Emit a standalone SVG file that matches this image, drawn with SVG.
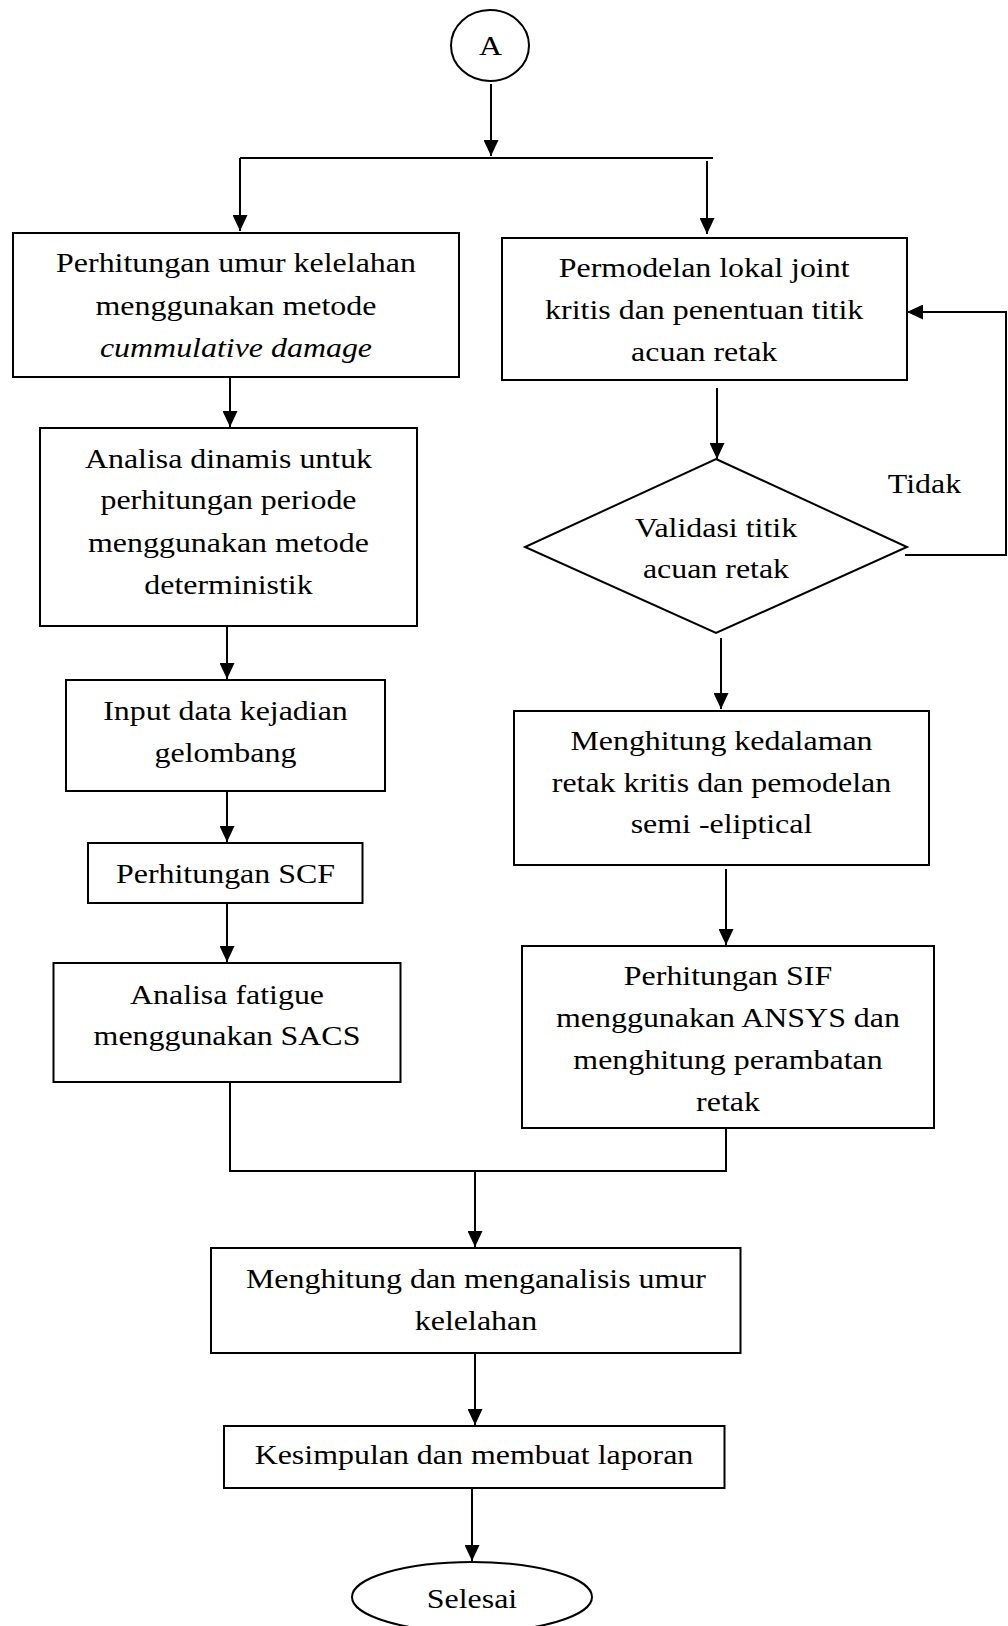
<svg xmlns="http://www.w3.org/2000/svg" width="1008" height="1626" viewBox="0 0 1008 1626">
<style>
.box{fill:#fff;stroke:#000;stroke-width:2}
.ln{fill:none;stroke:#000;stroke-width:2}
.t{font-family:"Liberation Serif","Times New Roman",serif;font-size:28px;fill:#000;text-anchor:middle}
.i{font-style:italic}
</style>
<defs>
<marker id="ah" markerUnits="userSpaceOnUse" markerWidth="17" markerHeight="15" refX="16" refY="7.5" orient="auto">
<path d="M0,0 L16,7.5 L0,15 z" fill="#000"/>
</marker>
</defs>
<rect width="1008" height="1626" fill="#fff"/>
<g id="connectors">
<path class="ln" d="M491,84 V156" marker-end="url(#ah)"/>
<path class="ln" d="M240,158 H713"/>
<path class="ln" d="M240,158 V231" marker-end="url(#ah)"/>
<path class="ln" d="M707,161 V234" marker-end="url(#ah)"/>
<path class="ln" d="M230,377 V427" marker-end="url(#ah)"/>
<path class="ln" d="M227,626 V679" marker-end="url(#ah)"/>
<path class="ln" d="M227,791 V842" marker-end="url(#ah)"/>
<path class="ln" d="M227,903 V962" marker-end="url(#ah)"/>
<path class="ln" d="M717,388 V459" marker-end="url(#ah)"/>
<path class="ln" d="M721,638 V709" marker-end="url(#ah)"/>
<path class="ln" d="M726,869 V945" marker-end="url(#ah)"/>
<path class="ln" d="M905,555 H1006 V312 H907" marker-end="url(#ah)"/>
<path class="ln" d="M230,1082 V1171 H726 V1128"/>
<path class="ln" d="M475,1171 V1247" marker-end="url(#ah)"/>
<path class="ln" d="M475,1353 V1425" marker-end="url(#ah)"/>
<path class="ln" d="M472,1488 V1561" marker-end="url(#ah)"/>
<text class="t" x="924.5" y="493" transform="matrix(1.14 0 0 1 -129.43 0)">Tidak</text>
</g>
<g id="start">
<ellipse class="box" cx="490" cy="45.5" rx="39" ry="35.5"/>
<text class="t" x="490.5" y="55" transform="matrix(1.14 0 0 1 -68.67 0)">A</text>
</g>
<g id="n1">
<rect class="box" x="13" y="233" width="446" height="144"/>
<g transform="matrix(1.14 0 0 1 -33.04 0)">
<text class="t" x="236" y="272.5">Perhitungan umur kelelahan</text>
<text class="t" x="236" y="315">menggunakan metode</text>
<text class="t i" x="236" y="357">cummulative damage</text>
</g>
</g>
<g id="n2">
<rect class="box" x="40" y="428" width="377" height="198"/>
<g transform="matrix(1.14 0 0 1 -31.99 0)">
<text class="t" x="228.5" y="468">Analisa dinamis untuk</text>
<text class="t" x="228.5" y="509.5">perhitungan periode</text>
<text class="t" x="228.5" y="552">menggunakan metode</text>
<text class="t" x="228.5" y="594">deterministik</text>
</g>
</g>
<g id="n3">
<rect class="box" x="66" y="680" width="319" height="111"/>
<g transform="matrix(1.14 0 0 1 -31.57 0)">
<text class="t" x="225.5" y="720">Input data kejadian</text>
<text class="t" x="225.5" y="762">gelombang</text>
</g>
</g>
<g id="n4">
<rect class="box" x="88" y="843" width="274.5" height="60"/>
<g transform="matrix(1.14 0 0 1 -31.57 0)">
<text class="t" x="225.5" y="883">Perhitungan SCF</text>
</g>
</g>
<g id="n5">
<rect class="box" x="53.5" y="963" width="347" height="119"/>
<g transform="matrix(1.14 0 0 1 -31.78 0)">
<text class="t" x="227" y="1004">Analisa fatigue</text>
<text class="t" x="227" y="1045">menggunakan SACS</text>
</g>
</g>
<g id="r1">
<rect class="box" x="502" y="238" width="405" height="142"/>
<g transform="matrix(1.14 0 0 1 -98.59 0)">
<text class="t" x="704.2" y="277">Permodelan lokal joint</text>
<text class="t" x="704.2" y="319">kritis dan penentuan titik</text>
<text class="t" x="704.2" y="361">acuan retak</text>
</g>
</g>
<g id="d1">
<polygon class="box" points="716,459 907,547 716,633 525,547"/>
<g transform="matrix(1.14 0 0 1 -100.24 0)">
<text class="t" x="716" y="537.5">Validasi titik</text>
<text class="t" x="716" y="578.5">acuan retak</text>
</g>
</g>
<g id="r2">
<rect class="box" x="514" y="711" width="415" height="154"/>
<g transform="matrix(1.14 0 0 1 -101.01 0)">
<text class="t" x="721.5" y="750">Menghitung kedalaman</text>
<text class="t" x="721.5" y="792">retak kritis dan pemodelan</text>
<text class="t" x="721.5" y="833.5">semi -eliptical</text>
</g>
</g>
<g id="r3">
<rect class="box" x="522" y="946" width="412" height="182"/>
<g transform="matrix(1.14 0 0 1 -101.92 0)">
<text class="t" x="728" y="985">Perhitungan SIF</text>
<text class="t" x="728" y="1027">menggunakan ANSYS dan</text>
<text class="t" x="728" y="1069">menghitung perambatan</text>
<text class="t" x="728" y="1111">retak</text>
</g>
</g>
<g id="m1">
<rect class="box" x="211" y="1248" width="529.5" height="105"/>
<g transform="matrix(1.14 0 0 1 -66.64 0)">
<text class="t" x="476" y="1288">Menghitung dan menganalisis umur</text>
<text class="t" x="476" y="1330">kelelahan</text>
</g>
</g>
<g id="k1">
<rect class="box" x="224" y="1426" width="500.5" height="62"/>
<g transform="matrix(1.14 0 0 1 -66.36 0)">
<text class="t" x="474" y="1464.5">Kesimpulan dan membuat laporan</text>
</g>
</g>
<g id="end">
<ellipse class="box" cx="472" cy="1597" rx="120" ry="35"/>
<g transform="matrix(1.14 0 0 1 -66.08 0)">
<text class="t" x="472" y="1608">Selesai</text>
</g>
</g>
</svg>
